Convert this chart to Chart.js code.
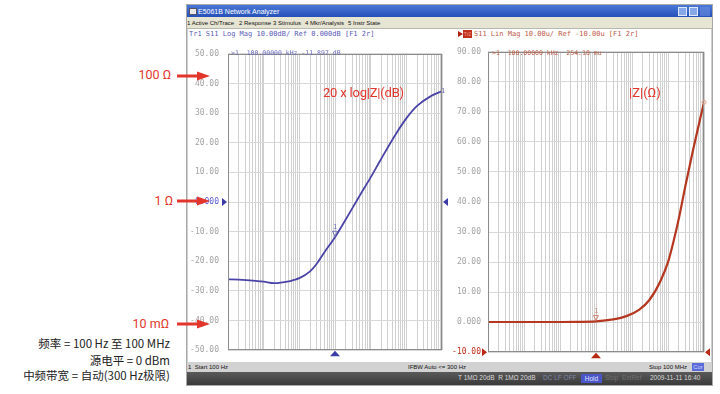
<!DOCTYPE html>
<html><head><meta charset="utf-8">
<script src="https://cdn.jsdelivr.net/npm/chart.js@4.4.1/dist/chart.umd.min.js"></script>
<style>
body{margin:0;width:720px;height:394px;position:relative;background:#fff;overflow:hidden;font-family:"Liberation Sans",Arial,sans-serif}
.a{position:absolute;white-space:nowrap;line-height:1}
.mono{font-family:"DejaVu Sans Mono",monospace}
.t{font-size:6px;color:#111}
.red{color:#e2352b;font-size:12.5px;font-family:"Roboto","Liberation Sans",sans-serif}
.cn{font-family:"Noto Sans CJK SC",sans-serif;font-size:11.5px;color:#222;right:550px;text-align:right}
</style></head><body>
<script>
// ---- data ----
const freqHz   = [100, 200, 500, 1000, 2000, 5000, 7000, 10000, 20000, 30000, 50000, 100000, 200000, 500000, 1e6, 2e6, 5e6, 1e7, 2e7, 5e7, 1e8];
const logMagDb = [-26.1, -26.2, -26.5, -26.9, -27.4, -26.8, -26.3, -25.7, -23.4, -21.0, -17.0, -11.9, -5.9, 2.3, 8.3, 14.7, 22.8, 28.2, 32.4, 35.8, 37.4];
const linFreqHz  = [100, 1000, 10000, 30000, 100000, 300000, 700000, 1.6e6, 3e6, 6e6, 1e7, 1.5e7, 2e7, 3e7, 5e7, 1e8];
const linMagOhm  = [0.05, 0.05, 0.06, 0.1, 0.25, 0.9, 2.0, 4.2, 7.3, 13.4, 20.0, 28.0, 34.5, 45.0, 57.5, 73.2];
const leftTickLabels  = ["-50.00","-40.00","-30.00","-20.00","-10.00","0.000","10.00","20.00","30.00","40.00","50.00"];
const rightTickLabels = ["-10.00","0.000","10.00","20.00","30.00","40.00","50.00","60.00","70.00","80.00","90.00"];
const leftRange  = [-50, 50];
const rightRange = [-10, 90];
const freqRange  = [100, 1e8];
const markerFreq = 100000;
const markerLeftDb = -11.897;
const markerRightOhm = 0.25418;
const leftRef = 0, rightRef = -10;
</script>

<!-- window frame -->
<div class="a" style="left:186px;top:4px;width:527px;height:382px;background:#cfcfcf;border:1px solid #a8a8a8;box-sizing:border-box"></div>
<div class="a" style="left:187px;top:5px;width:525px;height:12px;background:linear-gradient(#4a78d8,#2550b8)"></div>
<div class="a" style="left:189px;top:8px;width:6px;height:5px;background:#e8e8e8;border:1px solid #556"></div>
<div class="a" style="left:198px;top:7.5px;font-size:7px;color:#fff">E5061B Network Analyzer</div>
<div class="a" style="left:678px;top:7px;width:9px;height:9px;background:#86a8e8;border:1px solid #dfe8fa;box-sizing:border-box"></div>
<div class="a" style="left:689px;top:7px;width:9px;height:9px;background:#86a8e8;border:1px solid #dfe8fa;box-sizing:border-box"></div>
<div class="a" style="left:700px;top:7px;width:10px;height:9px;background:#6a8ee0;opacity:.6"></div>
<div class="a" style="left:187px;top:17px;width:525px;height:11px;background:#e6e4d2;border-bottom:1px solid #b8b8b0"></div>
<div class="a t" style="left:187px;top:20px">1 Active Ch/Trace</div>
<div class="a t" style="left:239px;top:20px">2 Response</div>
<div class="a t" style="left:273px;top:20px">3 Stimulus</div>
<div class="a t" style="left:305px;top:20px">4 Mkr/Analysis</div>
<div class="a t" style="left:348px;top:20px">5 Instr State</div>
<div class="a" style="left:188px;top:29px;width:523px;height:333px;background:#fff"></div>
<!-- status bars -->
<div class="a" style="left:187px;top:362px;width:525px;height:10px;background:#d2d2d2"></div>
<div class="a t" style="left:188px;top:364px">1&nbsp; Start 100 Hz</div>
<div class="a t" style="left:408px;top:364px">IFBW Auto &lt;= 300 Hz</div>
<div class="a t" style="left:649px;top:364px">Stop 100 MHz</div>
<div class="a" style="left:692px;top:363px;width:12px;height:8px;background:#5a6ad8;color:#cfd6ff;font-size:6px;text-align:center;line-height:8px">Cor</div>
<div class="a" style="left:187px;top:372px;width:525px;height:13px;background:linear-gradient(#5a5a5a,#3a3a3a)"></div>
<div class="a" style="left:458px;top:375px;font-size:6.5px;color:#d8d8d8">T 1MΩ 20dB&nbsp; R 1MΩ 20dB</div>
<div class="a" style="left:543px;top:375px;font-size:6.5px;color:#7a86a8">DC LF OFF</div>
<div class="a" style="left:581px;top:374px;width:21px;height:9px;background:#4a56c8;color:#e0e4ff;font-size:6.5px;text-align:center;line-height:9px">Hold</div>
<div class="a" style="left:605px;top:375px;font-size:6.5px;color:#707070">Stop</div>
<div class="a" style="left:622px;top:375px;font-size:6.5px;color:#707070">ExtRef</div>
<div class="a" style="left:650px;top:375px;font-size:6.5px;color:#d8d8d8">2009-11-11 16:40</div>

<!-- panel headers -->
<div class="a mono" style="left:189px;top:31px;font-size:7px;color:#5a5ab8">Tr1 S11 Log Mag 10.00dB/ Ref 0.000dB [F1 2r]</div>
<div class="a" style="left:458px;top:31px;width:0;height:0;border-top:3.5px solid transparent;border-bottom:3.5px solid transparent;border-left:5px solid #b02010"></div>
<div class="a" style="left:463px;top:30px;width:9px;height:8px;background:#c0301c;color:#f0a090;font-size:5px;line-height:8px;text-align:center">Tr2</div>
<div class="a mono" style="left:474px;top:31px;font-size:7px;color:#c05a48">S11 Lin Mag 10.00u/ Ref -10.00u [F1 2r]</div>

<canvas id="c1" class="a" width="262" height="324" style="left:188px;top:40px"></canvas>
<canvas id="c2" class="a" width="262" height="324" style="left:450px;top:40px"></canvas>

<div class="a mono" style="left:231px;top:50px;font-size:6.5px;color:#6a6ab8">&gt;1&nbsp; 100.00000 kHz -11.897 dB</div>
<div class="a mono" style="left:492px;top:50px;font-size:6.5px;color:#c0604a">&gt;1&nbsp; 100.00000 kHz&nbsp; 254.18 mu</div>

<div class="a red" style="left:323px;top:86px;font-size:13px;letter-spacing:-0.2px">20 x log|Z|(dB)</div>
<div class="a red" style="left:629px;top:86px;font-size:13px">|Z|(Ω)</div>

<!-- outside annotations -->
<div class="a red" style="right:549px;top:69px">100 Ω</div>
<div class="a red" style="right:547px;top:195px">1 Ω</div>
<div class="a red" style="right:551px;top:318px">10 mΩ</div>
<div class="a cn" style="top:338px">频率 = 100 Hz 至 100 MHz</div>
<div class="a cn" style="top:355px">源电平 = 0 dBm</div>
<div class="a cn" style="top:370px">中频带宽 = 自动(300 Hz极限)</div>
<svg class="a" style="left:0;top:0" width="720" height="394">
 <g fill="#e2352b" stroke="#e2352b">
  <line x1="177" y1="76" x2="199" y2="76" stroke-width="3"/><polygon stroke="none" points="197,71.5 210,76 197,80.5"/>
  <line x1="177" y1="201" x2="199" y2="201" stroke-width="3"/><polygon stroke="none" points="197,196.5 210,201 197,205.5"/>
  <line x1="177" y1="324" x2="199" y2="324" stroke-width="3"/><polygon stroke="none" points="197,319.5 210,324 197,328.5"/>
 </g>
</svg>

<script>
function tri(ctx, p){ctx.beginPath();ctx.moveTo(p[0][0],p[0][1]);ctx.lineTo(p[1][0],p[1][1]);ctx.lineTo(p[2][0],p[2][1]);ctx.closePath();ctx.fill();}
function decoPlugin(cfg){
  return {id:'deco', afterDraw(chart){
    const {ctx, chartArea:a, scales:{x,y}} = chart;
    ctx.save();
    ctx.strokeStyle='#8c8c8c'; ctx.lineWidth=1;
    ctx.strokeRect(Math.round(a.left)+0.5, Math.round(a.top)+0.5, Math.round(a.right-a.left)-1, Math.round(a.bottom-a.top)-1);
    ctx.fillStyle=cfg.color;
    const ry = y.getPixelForValue(cfg.ref);
    tri(ctx, [[a.left-6,ry-4],[a.left-1,ry],[a.left-6,ry+4]]);
    tri(ctx, [[a.right+6,ry-4],[a.right+1,ry],[a.right+6,ry+4]]);
    const mx = x.getPixelForValue(cfg.mx);
    tri(ctx, [[mx-5,a.bottom+6],[mx,a.bottom+0.5],[mx+5,a.bottom+6]]);
    const my = y.getPixelForValue(cfg.my);
    ctx.strokeStyle=cfg.mcolor; ctx.fillStyle=cfg.mcolor; ctx.lineWidth=1;
    ctx.beginPath(); ctx.moveTo(mx-2.5,my-6); ctx.lineTo(mx+2.5,my-6); ctx.lineTo(mx,my-1); ctx.closePath(); ctx.stroke();
    ctx.font='7px "DejaVu Sans Mono"'; ctx.textAlign='center'; ctx.textBaseline='alphabetic';
    ctx.fillText('1', mx, my-8);
    if (cfg.endLabel) {
      const ds = chart.data.datasets[0].data; const last = ds[ds.length-1];
      ctx.textAlign='left'; ctx.fillText('1', a.right-1, y.getPixelForValue(last.y)+2);
    }
    if (cfg.endCircle) {
      const ds = chart.data.datasets[0].data; const last = ds[ds.length-1];
      ctx.beginPath(); ctx.arc(x.getPixelForValue(last.x), y.getPixelForValue(last.y), 2, 0, Math.PI*2); ctx.strokeStyle='#e8a080'; ctx.stroke();
    }
    ctx.restore();
  }};
}
function makeChart(id, xs, ys, range, labels, ref, refColor, lineColor, lw, yWidth, tickPad, plug){
  const step = (range[1]-range[0])/(labels.length-1);
  return new Chart(document.getElementById(id), {
    type:'line',
    data:{datasets:[{data: xs.map((v,i)=>({x:v,y:ys[i]})), borderColor:lineColor, borderWidth:lw, pointRadius:0, cubicInterpolationMode:'monotone', fill:false}]},
    options:{
      responsive:false, animation:false, devicePixelRatio:1,
      layout:{padding:{left:0,top:6,right:8,bottom:8}},
      plugins:{legend:{display:false}, tooltip:{enabled:false}},
      scales:{
        x:{type:'logarithmic', min:freqRange[0], max:freqRange[1],
           afterBuildTicks(s){ const t=[]; const e0=Math.round(Math.log10(freqRange[0])), e1=Math.round(Math.log10(freqRange[1]));
             for(let e=e0;e<e1;e++) for(let m=1;m<10;m++) t.push({value:m*Math.pow(10,e)}); t.push({value:freqRange[1]}); s.ticks=t; },
           ticks:{display:false}, grid:{color:'#d0d0d0', drawTicks:false, lineWidth:1}, border:{display:false},
           afterFit(s){ s.height=0; }},
        y:{min:range[0], max:range[1],
           afterBuildTicks(s){ s.ticks = labels.map((l,i)=>({value: range[0]+i*step})); },
           ticks:{callback:(v,i)=>labels[i], padding:tickPad, font:{family:'DejaVu Sans Mono', size:8},
                  color:c=> (c.tick && c.tick.value===ref) ? refColor : '#a4a4a4'},
           grid:{color:'#d8d8d8', drawTicks:false}, border:{display:false},
           afterFit(s){ s.width=yWidth; }}
      }
    },
    plugins:[plug]
  });
}
makeChart('c1', freqHz, logMagDb, leftRange, leftTickLabels, leftRef, '#5a5ad0', '#4b44a8', 1.8, 40, 9,
  decoPlugin({color:'#3c3ca8', ref:leftRef, mx:markerFreq, my:markerLeftDb, mcolor:'#7070b8', endLabel:true}));
makeChart('c2', linFreqHz, linMagOhm, rightRange, rightTickLabels, rightRef, '#c03018', '#b5371f', 2.2, 38, 7,
  decoPlugin({color:'#b82a14', ref:rightRef, mx:markerFreq, my:markerRightOhm, mcolor:'#d08070', endCircle:true}));
</script>
</body></html>
